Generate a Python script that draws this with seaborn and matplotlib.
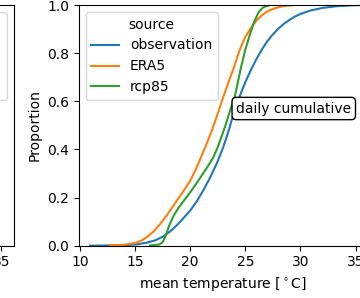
import numpy as np
import pandas as pd
import seaborn as sns
import matplotlib.pyplot as plt

# cumulative curves (temperature [C], proportion)
obs_temp = [10.9, 14.0, 15.1, 16.0, 16.8, 17.5, 18.2, 19.0, 19.98, 20.6, 21.16,
            21.8, 22.43, 23.0, 23.5, 24.0, 24.52, 25.0, 25.5, 26.0, 26.5, 27.0,
            27.5, 28.0, 28.5, 29.0, 29.5, 30.0, 30.9, 32.0, 33.3, 34.8, 35.5]
obs_prop = [0.0, 0.002, 0.005, 0.012, 0.022, 0.037, 0.06, 0.095, 0.145, 0.185,
            0.228, 0.283, 0.344, 0.41, 0.48, 0.56, 0.625, 0.68, 0.73, 0.775,
            0.815, 0.85, 0.878, 0.902, 0.922, 0.938, 0.952, 0.963, 0.977, 0.988,
            0.995, 0.999, 1.0]

era_temp = [12.7, 14.0, 15.0, 15.6, 16.1, 16.7, 17.3, 17.9, 18.5, 19.2, 19.98,
            20.5, 21.0, 21.5, 22.0, 22.5, 22.9, 23.4, 23.97, 24.5, 24.97, 25.5,
            26.0, 26.5, 27.0, 27.7, 28.5, 29.5]
era_prop = [0.001, 0.004, 0.011, 0.022, 0.037, 0.06, 0.092, 0.128, 0.168, 0.215,
            0.268, 0.317, 0.37, 0.425, 0.483, 0.55, 0.605, 0.67, 0.742, 0.815,
            0.865, 0.905, 0.935, 0.958, 0.974, 0.987, 0.996, 1.0]

rcp_temp = [16.35, 17.2, 17.5, 17.8, 18.1, 18.5, 18.9, 19.35, 19.8, 20.25, 20.7,
            21.16, 21.6, 22.07, 22.5, 22.89, 23.2, 23.5, 24.07, 24.6, 25.0, 25.43,
            25.8, 26.2, 26.6, 27.2]
rcp_prop = [0.001, 0.005, 0.015, 0.045, 0.085, 0.125, 0.155, 0.183, 0.21, 0.238,
            0.268, 0.30, 0.33, 0.365, 0.41, 0.46, 0.50, 0.545, 0.625, 0.74, 0.815,
            0.88, 0.93, 0.97, 0.99, 1.0]

sources = ["observation", "ERA5", "rcp85"]

df = pd.concat([
    pd.DataFrame({"temp": obs_temp, "prop": obs_prop, "source": sources[0]}),
    pd.DataFrame({"temp": era_temp, "prop": era_prop, "source": sources[1]}),
    pd.DataFrame({"temp": rcp_temp, "prop": rcp_prop, "source": sources[2]}),
])

fig = plt.figure(figsize=(3.6, 2.98), dpi=100)

# the figure is a crop: neighbour panel on the left, main panel runs off the right
ax_left = fig.add_axes([-0.7653, 0.1755, 0.8028, 0.8077])
ax = fig.add_axes([0.2186, 0.1755, 0.8028, 0.8077])

sns.lineplot(data=df, x="temp", y="prop", hue="source", ax=ax, linewidth=1.5)
ax.set_xlim(9.88, 36.1)
ax.set_ylim(0, 1)
ax.set_xticks([10, 15, 20, 25, 30, 35])
ax.set_xlabel("mean temperature [$^\\circ$C]")
ax.set_ylabel("Proportion")
ax.legend(title="source", loc="upper left")
ax.text(0.545, 0.57, "daily cumulative", transform=ax.transAxes, va="center",
        ha="left", fontsize=10, zorder=5,
        bbox=dict(boxstyle="round", facecolor="white", edgecolor="black"))

# only the right edge of the neighbour panel shows
handles, labels = ax.get_legend_handles_labels()
ax_left.set_xlim(9.88, 36.1)
ax_left.set_ylim(0, 1)
ax_left.set_xticks([35])
ax_left.set_yticks([])
ax_left.legend(handles, labels, title="source", loc="upper right")

fig.savefig("out.png", dpi=100)
